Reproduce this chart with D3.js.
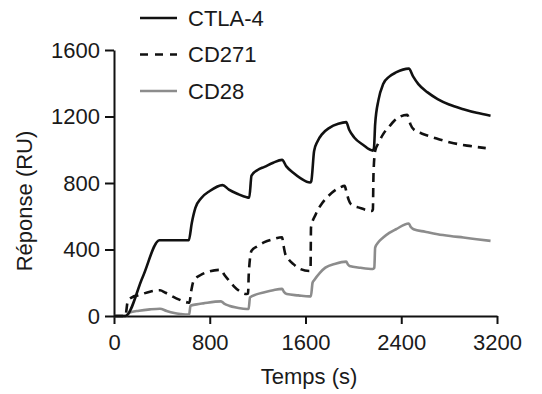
<!DOCTYPE html>
<html>
<head>
<meta charset="utf-8">
<script src="https://cdn.jsdelivr.net/npm/d3@7"></script>
<style>
  body { margin: 0; background: #fff; }
  text { font-family: "Liberation Sans", Arial, sans-serif; fill: #1a1a1a; }
</style>
</head>
<body>
<div id="chart"></div>
<script>
// Données (temps en s, réponse en RU)
var ctla4 = [[0,0],[95,0],[240,235],[380,456],[625,456],[650,560],[680,650],[730,710],[800,752],[907,787],[960,760],[1030,735],[1109,714],[1130,712],[1149,845],[1200,878],[1257,897],[1330,922],[1404,939],[1440,900],[1500,860],[1560,828],[1638,803],[1648,810],[1672,993],[1700,1050],[1739,1094],[1800,1132],[1874,1156],[1940,1166],[1965,1120],[2007,1074],[2080,1030],[2163,995],[2172,1010],[2182,1154],[2210,1300],[2249,1395],[2300,1440],[2356,1465],[2463,1488],[2500,1440],[2543,1395],[2620,1345],[2704,1305],[2800,1272],[2919,1244],[3030,1222],[3146,1204]];
var cd271 = [[0,0],[95,0],[115,90],[150,112],[209,126],[300,146],[384,155],[430,140],[478,122],[540,100],[612,82],[630,80],[645,150],[666,213],[720,245],[773,263],[894,278],[920,250],[961,213],[1000,180],[1042,153],[1109,132],[1120,135],[1126,253],[1149,393],[1200,420],[1257,444],[1330,462],[1404,474],[1415,430],[1431,373],[1460,340],[1498,313],[1552,284],[1632,271],[1642,275],[1646,532],[1686,612],[1740,680],[1793,723],[1887,773],[1927,783],[1940,753],[1960,700],[1980,672],[2048,652],[2155,632],[2163,640],[2168,853],[2182,993],[2210,1040],[2249,1094],[2300,1140],[2342,1174],[2450,1210],[2465,1185],[2476,1154],[2517,1114],[2570,1098],[2624,1084],[2720,1062],[2811,1044],[2950,1025],[3106,1010]];
var cd28 = [[0,0],[95,0],[130,20],[209,32],[300,40],[384,44],[440,30],[504,18],[560,12],[612,8],[628,8],[639,62],[690,70],[746,76],[894,88],[920,75],[961,62],[1030,50],[1109,42],[1125,42],[1136,112],[1190,130],[1257,143],[1330,155],[1404,163],[1420,145],[1444,132],[1540,124],[1632,118],[1645,118],[1659,200],[1672,215],[1720,260],[1766,291],[1850,315],[1940,327],[1955,310],[1967,301],[2060,290],[2163,283],[2175,290],[2182,411],[2210,445],[2249,472],[2300,500],[2356,522],[2463,556],[2480,535],[2503,522],[2600,507],[2704,492],[2810,481],[2919,472],[3030,462],[3146,452]];

var series = [
    { label: "CTLA-4", values: ctla4, color: "#111", dash: null },
    { label: "CD271", values: cd271, color: "#111", dash: "9,6" },
    { label: "CD28", values: cd28, color: "#8c8c8c", dash: null }
];

var xTicks = [0, 800, 1600, 2400, 3200];
var yTicks = [0, 400, 800, 1200, 1600];

// Dimensions
var width = 542, height = 394;
var margin = { top: 50, left: 114 },
    plotW = 383, plotH = 266;

var svg = d3.select("#chart").append("svg")
    .attr("width", width)
    .attr("height", height);

var g = svg.append("g")
    .attr("transform", "translate(" + margin.left + "," + margin.top + ")");

// Echelles
var x = d3.scaleLinear().domain([0, 3200]).range([0, plotW]);
var y = d3.scaleLinear().domain([0, 1600]).range([plotH, 0]);

// Axes
var xAxis = g.append("g")
    .attr("transform", "translate(0," + plotH + ")")
    .call(d3.axisBottom(x).tickValues(xTicks).tickFormat(d3.format("d"))
        .tickSize(8).tickSizeOuter(0).tickPadding(10));

var yAxis = g.append("g")
    .call(d3.axisLeft(y).tickValues(yTicks).tickFormat(d3.format("d"))
        .tickSize(9).tickSizeOuter(0).tickPadding(5));

[xAxis, yAxis].forEach(function (a) {
    a.selectAll("path, line").attr("stroke", "#111").attr("stroke-width", 2);
    a.selectAll("text").style("font-size", "22px").attr("fill", "#1a1a1a");
});

// Courbes
var line = d3.line()
    .x(function (d) { return x(d[0]); })
    .y(function (d) { return y(d[1]); })
    .curve(d3.curveMonotoneX);

series.slice().reverse().forEach(function (s) {
    g.append("path")
        .datum(s.values)
        .attr("fill", "none")
        .attr("stroke", s.color)
        .attr("stroke-width", 2.6)
        .attr("stroke-dasharray", s.dash)
        .attr("d", line);
});

// Titres des axes
svg.append("text")
    .attr("x", 309)
    .attr("y", 384)
    .attr("text-anchor", "middle")
    .style("font-size", "22px")
    .text("Temps (s)");

svg.append("text")
    .attr("transform", "translate(32,201) rotate(-90)")
    .attr("text-anchor", "middle")
    .style("font-size", "22px")
    .text("Réponse (RU)");

// Légende
var legend = svg.selectAll(".legend")
    .data(series)
    .enter().append("g")
    .attr("class", "legend")
    .attr("transform", function (d, i) { return "translate(140," + (18 + i * 36.5) + ")"; });

legend.append("line")
    .attr("x1", 0).attr("x2", 37)
    .attr("stroke", function (d) { return d.color; })
    .attr("stroke-width", 2.6)
    .attr("stroke-dasharray", function (d) { return d.dash ? "8,7" : null; });

legend.append("text")
    .attr("x", 48)
    .attr("dy", "0.35em")
    .style("font-size", "22px")
    .text(function (d) { return d.label; });
</script>
</body>
</html>
